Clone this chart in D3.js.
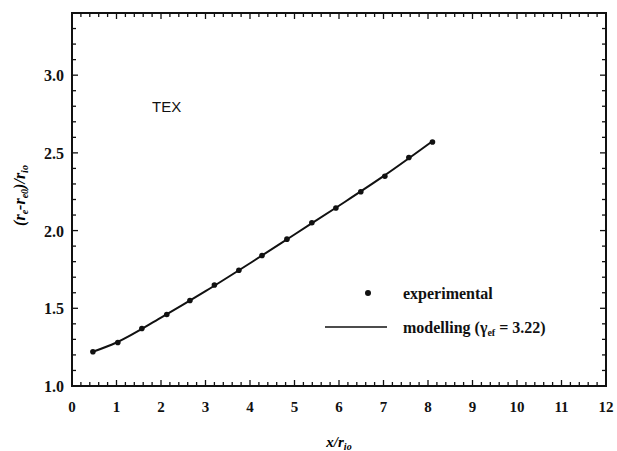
<!DOCTYPE html>
<html>
<head>
<meta charset="utf-8">
<script src="https://cdn.jsdelivr.net/npm/d3@7"></script>
<style>
  body { margin: 0; background: #fff; }
  svg { display: block; }
  .tick-label { font-family: "Liberation Serif", serif; font-weight: bold; fill: #111; }
  .legend-text { font-family: "Liberation Serif", serif; font-weight: bold; font-size: 16px; fill: #111; }
</style>
</head>
<body>
<div id="chart"></div>
<script>

// experimental points
let expX = [0.47, 1.03, 1.57, 2.13, 2.65, 3.2, 3.75, 4.27, 4.83, 5.39, 5.93, 6.49, 7.03, 7.57, 8.1];
let expY = [1.22, 1.28, 1.37, 1.46, 1.55, 1.65, 1.745, 1.84, 1.945, 2.05, 2.145, 2.25, 2.35, 2.47, 2.57];

// modelling curve
let modelX = [0.47, 1.0, 2.0, 3.0, 4.0, 5.0, 6.0, 7.0, 8.1];
let modelY = [1.22, 1.28, 1.44, 1.61, 1.79, 1.975, 2.16, 2.35, 2.575];

let xTicks = [0, 1, 2, 3, 4, 5, 6, 7, 8, 9, 10, 11, 12];
let yTicks = [1.0, 1.5, 2.0, 2.5, 3.0];

let width = 617, height = 451;
let margin = { left: 72, right: 11, top: 13, bottom: 65 };

let x = d3.scaleLinear().domain([0, 12]).range([margin.left, width - margin.right]);
let y = d3.scaleLinear().domain([1.0, 3.4]).range([height - margin.bottom, margin.top]);

let svg = d3.select('#chart').append('svg')
    .attr('width', width)
    .attr('height', height);

let xMinor = d3.range(0, 12.001, 0.2);
let yMinor = d3.range(1.0, 3.401, 0.1);

// ticks, all pointing inward
let ticks = svg.append('g').attr('stroke', '#111').attr('stroke-width', 1.3);

xMinor.forEach(v => {
    let major = Math.abs(v - Math.round(v)) < 1e-6;
    let len = major ? 6 : 4;
    ticks.append('line')
        .attr('x1', x(v)).attr('x2', x(v))
        .attr('y1', y(1.0)).attr('y2', y(1.0) - len);
    ticks.append('line')
        .attr('x1', x(v)).attr('x2', x(v))
        .attr('y1', y(3.4)).attr('y2', y(3.4) + len);
});

yMinor.forEach(v => {
    let major = Math.abs(v * 2 - Math.round(v * 2)) < 1e-6;
    let len = major ? 6 : 4;
    ticks.append('line')
        .attr('y1', y(v)).attr('y2', y(v))
        .attr('x1', x(0)).attr('x2', x(0) + len);
    ticks.append('line')
        .attr('y1', y(v)).attr('y2', y(v))
        .attr('x1', x(12)).attr('x2', x(12) - len);
});

// frame
svg.append('rect')
    .attr('x', x(0)).attr('y', y(3.4))
    .attr('width', x(12) - x(0))
    .attr('height', y(1.0) - y(3.4))
    .attr('fill', 'none')
    .attr('stroke', '#111')
    .attr('stroke-width', 2);

// tick labels
svg.selectAll('.xl')
    .data(xTicks)
    .enter().append('text')
    .attr('class', 'tick-label')
    .style('font-size', '15px')
    .attr('x', d => x(d))
    .attr('y', y(1.0) + 26)
    .attr('text-anchor', 'middle')
    .text(d => d);

svg.selectAll('.yl')
    .data(yTicks)
    .enter().append('text')
    .attr('class', 'tick-label')
    .style('font-size', '16px')
    .attr('x', x(0) - 8)
    .attr('y', d => y(d) + 6)
    .attr('text-anchor', 'end')
    .text(d => d.toFixed(1));

// axis titles
let xt = svg.append('text')
    .attr('x', (x(0) + x(12)) / 2)
    .attr('y', 447)
    .attr('text-anchor', 'middle')
    .style('font-family', '"Liberation Serif", serif')
    .style('font-style', 'italic')
    .style('font-weight', 'bold')
    .style('font-size', '15px');
xt.append('tspan').text('x/r');
xt.append('tspan').attr('baseline-shift', '-30%').style('font-size', '10px').text('io');

let yt = svg.append('text')
    .attr('transform', `translate(25, ${(y(1.0) + y(3.4)) / 2 - 4}) rotate(-90)`)
    .attr('text-anchor', 'middle')
    .style('font-family', '"Liberation Serif", serif')
    .style('font-style', 'italic')
    .style('font-weight', 'bold')
    .style('font-size', '16px');
yt.append('tspan').text('(r');
yt.append('tspan').attr('baseline-shift', '-30%').style('font-size', '10px').text('e');
yt.append('tspan').text('-r');
yt.append('tspan').attr('baseline-shift', '-30%').style('font-size', '10px').text('e0');
yt.append('tspan').text(')/r');
yt.append('tspan').attr('baseline-shift', '-30%').style('font-size', '10px').text('io');

// modelling curve
let line = d3.line()
    .x((d, i) => x(modelX[i]))
    .y(d => y(d))
    .curve(d3.curveMonotoneX);

svg.append('path')
    .datum(modelY)
    .attr('d', line)
    .attr('fill', 'none')
    .attr('stroke', '#111')
    .attr('stroke-width', 2);

// experimental points
svg.selectAll('.pt')
    .data(expY)
    .enter().append('circle')
    .attr('cx', (d, i) => x(expX[i]))
    .attr('cy', d => y(d))
    .attr('r', 2.8)
    .attr('fill', '#111');

// TEX label
svg.append('text')
    .attr('x', 152)
    .attr('y', 112)
    .style('font-family', '"Liberation Sans", Arial, sans-serif')
    .style('font-size', '15px')
    .style('fill', '#111')
    .text('TEX');

// legend
svg.append('circle')
    .attr('cx', 368).attr('cy', 293)
    .attr('r', 3)
    .attr('fill', '#111');
svg.append('text')
    .attr('class', 'legend-text')
    .attr('x', 403).attr('y', 299)
    .text('experimental');

svg.append('line')
    .attr('x1', 325).attr('x2', 387)
    .attr('y1', 327).attr('y2', 327)
    .attr('stroke', '#111')
    .attr('stroke-width', 1.5);
let lt = svg.append('text')
    .attr('class', 'legend-text')
    .attr('x', 403).attr('y', 333);
lt.append('tspan').text('modelling (\u03B3');
lt.append('tspan').attr('baseline-shift', '-30%').style('font-size', '10px').text('ef');
lt.append('tspan').text(' = 3.22)');

</script>
</body>
</html>
